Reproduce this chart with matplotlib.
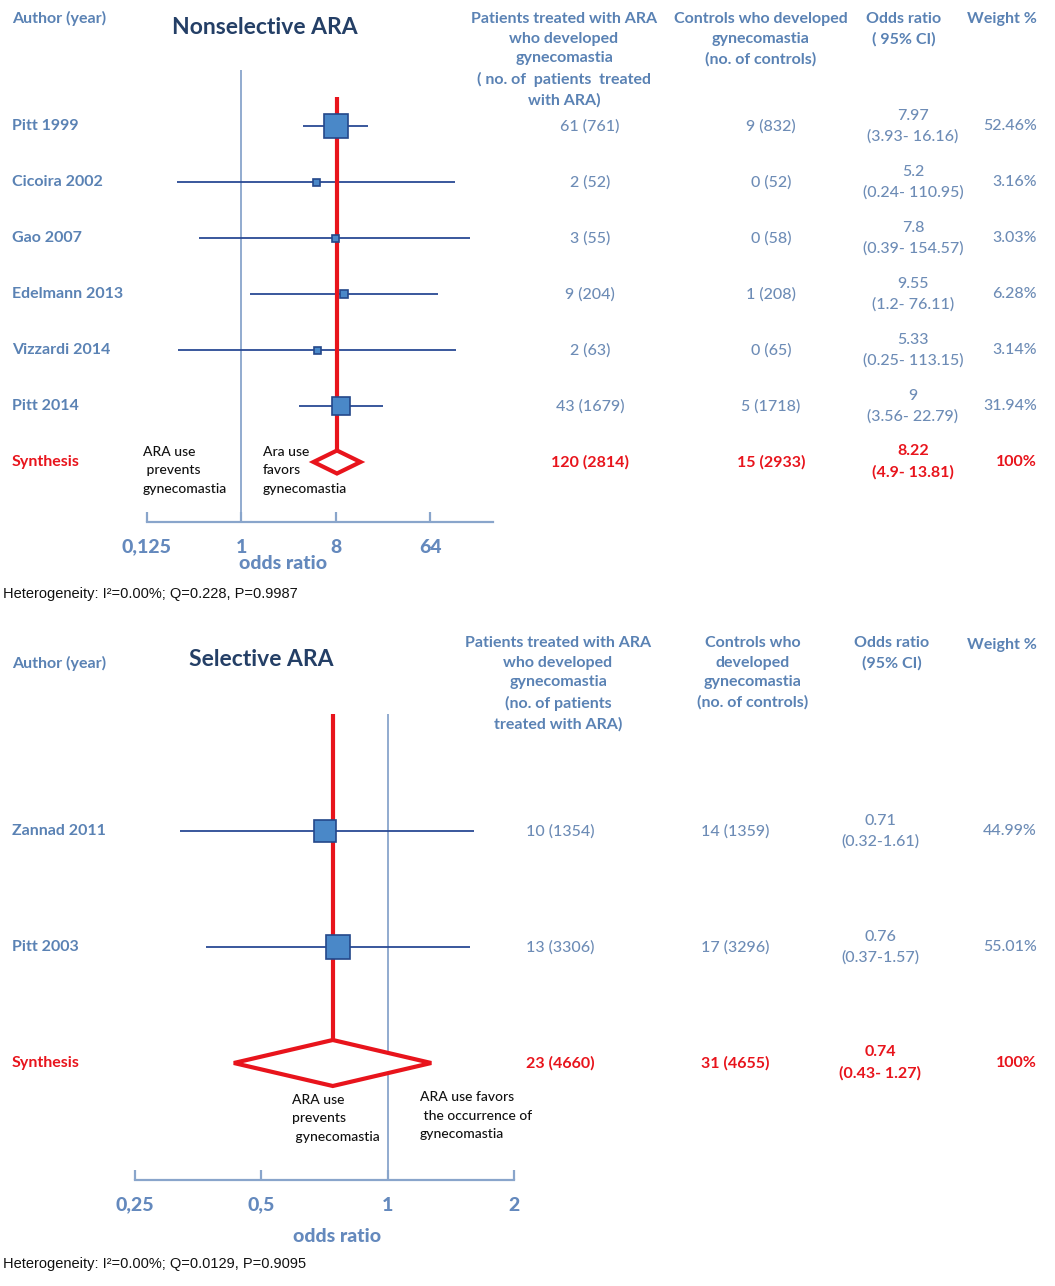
import numpy as np
import matplotlib.pyplot as plt
from matplotlib.transforms import blended_transform_factory

# Nonselective ARA
studies1 = ['Pitt 1999', 'Cicoira 2002', 'Gao 2007', 'Edelmann 2013', 'Vizzardi 2014', 'Pitt 2014']
ev_t1 = [61, 2, 3, 9, 2, 43]
n_t1 = [761, 52, 55, 204, 63, 1679]
ev_c1 = [9, 0, 0, 1, 0, 5]
n_c1 = [832, 52, 58, 208, 65, 1718]
or1 = [7.97, 5.2, 7.8, 9.55, 5.33, 9]
lo1 = [3.93, 0.24, 0.39, 1.2, 0.25, 3.56]
hi1 = [16.16, 110.95, 154.57, 76.11, 113.15, 22.79]
w1 = [52.46, 3.16, 3.03, 6.28, 3.14, 31.94]
pool1 = (8.22, 4.9, 13.81)
tot1 = (120, 2814, 15, 2933)
ticks1 = [0.125, 1, 8, 64]
ticklab1 = ['0,125', '1', '8', '64']

# Selective ARA
studies2 = ['Zannad 2011', 'Pitt 2003']
ev_t2 = [10, 13]
n_t2 = [1354, 3306]
ev_c2 = [14, 17]
n_c2 = [1359, 3296]
or2 = [0.71, 0.76]
lo2 = [0.32, 0.37]
hi2 = [1.61, 1.57]
w2 = [44.99, 55.01]
pool2 = (0.74, 0.43, 1.27)
tot2 = (23, 4660, 31, 4655)
ticks2 = [0.25, 0.5, 1, 2]
ticklab2 = ['0,25', '0,5', '1', '2']

W, H = 1055, 1286
LAB = '#5a82b4'
VAL = '#6d8cb6'
AXC = '#89a5cb'
NAVY = '#2a4a94'
RED = '#e8141c'
TICKC = '#6489bd'
FONT = 'Lato'

fig = plt.figure(figsize=(W / 100, H / 100), dpi=100)


def fx(x):
    return x / W


def fy(y):
    return 1 - y / H


def panel(x0, x1, top, bottom, row0, step, xlim, studies, ev_t, n_t, ev_c, n_c,
          ors, los, his, ws, pool, tot, ticks, ticklab, cols, sep, red_top, dh_px):
    ax = fig.add_axes([fx(x0), fy(bottom), (x1 - x0) / W, (bottom - top) / H])
    ax.set_xscale('log', base=2)
    ax.set_xlim(*xlim)
    n = len(studies)
    ax.set_ylim((bottom - row0) / step, (top - row0) / step)
    for s in ['top', 'left', 'right']:
        ax.spines[s].set_visible(False)
    ax.spines['bottom'].set_color(AXC)
    ax.spines['bottom'].set_linewidth(1.6)
    ax.set_yticks([])
    ax.set_xticks(ticks)
    ax.set_xticks([], minor=True)
    ax.set_xticklabels(ticklab, fontweight='black', family=FONT)
    ax.tick_params(axis='x', direction='in', length=7, width=1.6, color=AXC,
                   labelcolor=TICKC, labelsize=14, pad=12)
    ax.patch.set_alpha(0)

    ax.axvline(1, color=AXC, lw=1.3, zorder=1)
    y = np.arange(n)
    ax.hlines(y, los, his, color=NAVY, lw=1.3, zorder=2)
    dh = dh_px / step
    ax.plot([pool[0], pool[0]], [(red_top - row0) / step, n - dh],
            color=RED, lw=3, zorder=3, solid_capstyle='butt')
    for i in range(n):
        side = max(7, 3.3 * np.sqrt(ws[i]))
        ax.plot(ors[i], i, marker='s', ms=side * 0.72, mfc='#4a88c8',
                mec='#24488a', mew=1.2, zorder=4)
    dx = [pool[1], pool[0], pool[2], pool[0], pool[1]]
    dy = [n, n - dh, n, n + dh, n]
    ax.fill(dx, dy, facecolor='white', edgecolor=RED, lw=3, zorder=4,
            joinstyle='miter')

    tr = blended_transform_factory(fig.transFigure, ax.transData)
    kw = dict(transform=tr, family=FONT, fontsize=11.5, va='center')
    for i in range(n):
        ax.text(fx(12), i, studies[i], color=LAB, fontweight='bold', ha='left', **kw)
        ax.text(fx(cols[0]), i, f'{ev_t[i]} ({n_t[i]})', color=VAL, ha='center',
                fontweight='medium', **kw)
        ax.text(fx(cols[1]), i, f'{ev_c[i]} ({n_c[i]})', color=VAL, ha='center',
                fontweight='medium', **kw)
        ax.text(fx(cols[2]), i, f'{ors[i]:g}\n({los[i]:g}{sep}{his[i]:g})', color=VAL,
                ha='center', linespacing=1.58, fontweight='medium', **kw)
        ax.text(fx(1037), i, f'{ws[i]:g}%', color=VAL, ha='right', fontweight='medium', **kw)
    ax.text(fx(12), n, 'Synthesis', color=RED, fontweight='bold', ha='left', **kw)
    ax.text(fx(cols[0]), n, f'{tot[0]} ({tot[1]})', color=RED, fontweight='bold', ha='center', **kw)
    ax.text(fx(cols[1]), n, f'{tot[2]} ({tot[3]})', color=RED, fontweight='bold', ha='center', **kw)
    ax.text(fx(cols[2]), n, f'{pool[0]:g}\n({pool[1]:g}- {pool[2]:g})', color=RED,
            fontweight='bold', ha='center', linespacing=1.58, **kw)
    ax.text(fx(1037), n, '100%', color=RED, fontweight='bold', ha='right', **kw)
    return ax


hdr = dict(family=FONT, fontsize=11.5, color=LAB, fontweight='bold', va='top',
           linespacing=1.52)
note = dict(family=FONT, fontsize=10, color='#111111', va='top', linespacing=1.65,
            fontweight='medium')
axlab = dict(ha='center', va='center', family=FONT, fontsize=14, fontweight='black',
             color=TICKC)
het = dict(ha='left', va='center', family='Liberation Sans', fontsize=10.5, color='#111111')

# ---- top panel ----
panel(147, 493, 70, 522, 126, 56, (0.125, 256), studies1, ev_t1, n_t1, ev_c1, n_c1,
      or1, lo1, hi1, w1, pool1, tot1, ticks1, ticklab1, (590, 771, 913), '- ', 97, 11.5)
fig.text(fx(12), fy(18), 'Author (year)', ha='left', **{**hdr, 'va': 'center'})
fig.text(fx(265), fy(27), 'Nonselective ARA', ha='center', va='center', family=FONT,
         fontsize=16.5, fontweight='bold', color='#243f66')
fig.text(fx(564), fy(12), 'Patients treated with ARA\nwho developed\ngynecomastia\n'
         '( no. of  patients  treated\nwith ARA)', ha='center', **hdr)
fig.text(fx(761), fy(12), 'Controls who developed\ngynecomastia\n(no. of controls)',
         ha='center', **hdr)
fig.text(fx(904), fy(12), 'Odds ratio\n( 95% CI)', ha='center', **hdr)
fig.text(fx(1037), fy(12), 'Weight %', ha='right', **hdr)
fig.text(fx(143), fy(446), 'ARA use\n prevents\ngynecomastia', ha='left', **note)
fig.text(fx(263), fy(446), 'Ara use\nfavors\ngynecomastia', ha='left', **note)
fig.text(fx(283), fy(563), 'odds ratio', **axlab)
fig.text(fx(3), fy(594), 'Heterogeneity: I\u00b2=0.00%; Q=0.228, P=0.9987', **het)

# ---- bottom panel ----
panel(135, 514, 714, 1180, 831, 116, (0.25, 2), studies2, ev_t2, n_t2, ev_c2, n_c2,
      or2, lo2, hi2, w2, pool2, tot2, ticks2, ticklab2, (560, 735, 880), '-', 714, 23)
fig.text(fx(12), fy(663), 'Author (year)', ha='left', **{**hdr, 'va': 'center'})
fig.text(fx(261), fy(659), 'Selective ARA', ha='center', va='center', family=FONT,
         fontsize=16.5, fontweight='bold', color='#243f66')
fig.text(fx(558), fy(636), 'Patients treated with ARA\nwho developed\ngynecomastia\n'
         '(no. of patients\ntreated with ARA)', ha='center', **hdr)
fig.text(fx(753), fy(636), 'Controls who\ndeveloped\ngynecomastia\n(no. of controls)',
         ha='center', **hdr)
fig.text(fx(892), fy(636), 'Odds ratio\n(95% CI)', ha='center', **hdr)
fig.text(fx(1037), fy(638), 'Weight %', ha='right', **hdr)
fig.text(fx(292), fy(1094), 'ARA use\nprevents\n gynecomastia', ha='left', **note)
fig.text(fx(420), fy(1091), 'ARA use favors\n the occurrence of\ngynecomastia', ha='left', **note)
fig.text(fx(337), fy(1236), 'odds ratio', **axlab)
fig.text(fx(3), fy(1264), 'Heterogeneity: I\u00b2=0.00%; Q=0.0129, P=0.9095', **het)

fig.savefig('out.png', dpi=100)
